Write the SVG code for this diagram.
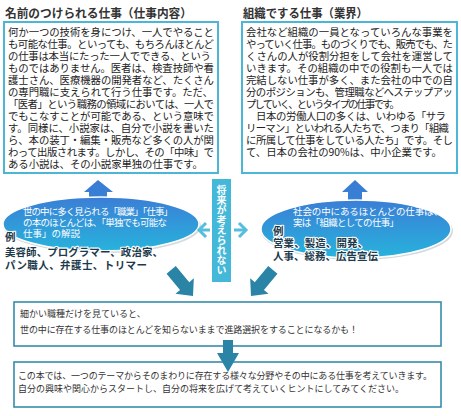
<svg xmlns="http://www.w3.org/2000/svg" width="461" height="416" viewBox="0 0 461 416">
<defs>
<style>
.t{font-family:"Noto Sans CJK JP","Noto Sans",sans-serif;}
.title{font-size:12px;font-weight:bold;fill:#333;}
.body{font-size:10.4px;fill:#222;}
.box1{fill:#fff;stroke:#4bb6d6;stroke-width:2;}
.ew{font-size:9.5px;fill:#fff;}
.ex{font-size:10.5px;font-weight:bold;fill:#1d3a4c;stroke:#fff;stroke-width:2.2px;paint-order:stroke;stroke-linejoin:round;}
.vt{font-size:10px;font-weight:bold;fill:#fff;}
.box2{fill:#fff;stroke:#2a84a6;stroke-width:1.5;}
.small{font-size:9px;fill:#333;}
.dk{fill:#2a84a6;}
.chev{fill:none;stroke:#55bedd;stroke-width:3;stroke-linejoin:miter;}
</style>
<linearGradient id="eg" x1="0" y1="0" x2="0" y2="1">
<stop offset="0" stop-color="#3b7ed6"/>
<stop offset="1" stop-color="#27b3dc"/>
</linearGradient>
<linearGradient id="ag" x1="0" y1="0" x2="0" y2="1">
<stop offset="0" stop-color="#3a7bd4"/>
<stop offset="1" stop-color="#3584d6"/>
</linearGradient>
</defs>

<g id="node-left">
<text class="t title" x="5" y="17.5" textLength="187" lengthAdjust="spacingAndGlyphs">名前のつけられる仕事（仕事内容）</text>
<rect class="box1" x="4" y="22" width="214" height="151"/>
<text class="t body">
<tspan x="8" y="36" textLength="206" lengthAdjust="spacing">何か一つの技術を身につけ、一人でやること</tspan>
<tspan x="8" y="48" textLength="206" lengthAdjust="spacing">も可能な仕事。といっても、もちろんほとんど</tspan>
<tspan x="8" y="60" textLength="203" lengthAdjust="spacing">の仕事は本当にたった一人でできる、という</tspan>
<tspan x="8" y="72" textLength="206" lengthAdjust="spacing">ものではありません。医者は、検査技師や看</tspan>
<tspan x="8" y="84" textLength="206" lengthAdjust="spacing">護士さん、医療機器の開発者など、たくさん</tspan>
<tspan x="8" y="96" textLength="205" lengthAdjust="spacing">の専門職に支えられて行う仕事です。ただ、</tspan>
<tspan x="8" y="108" textLength="206" lengthAdjust="spacing">「医者」という職務の領域においては、一人で</tspan>
<tspan x="8" y="120" textLength="206" lengthAdjust="spacing">でもこなすことが可能である、という意味で</tspan>
<tspan x="8" y="132" textLength="206" lengthAdjust="spacing">す。同様に、小説家は、自分で小説を書いた</tspan>
<tspan x="8" y="144" textLength="206" lengthAdjust="spacing">ら、本の装丁・編集・販売など多くの人が関</tspan>
<tspan x="8" y="156" textLength="206" lengthAdjust="spacing">わって出版されます。しかし、その「中味」で</tspan>
<tspan x="8" y="168" textLength="195" lengthAdjust="spacing">ある小説は、その小説家単独の仕事です。</tspan>
</text>
</g>

<g id="node-right">
<text class="t title" x="243" y="17.5" textLength="125" lengthAdjust="spacingAndGlyphs">組織でする仕事（業界）</text>
<rect class="box1" x="242" y="22" width="215" height="151"/>
<text class="t body">
<tspan x="246" y="36" textLength="207" lengthAdjust="spacing">会社など組織の一員となっていろんな事業を</tspan>
<tspan x="246" y="48" textLength="207" lengthAdjust="spacing">やっていく仕事。ものづくりでも、販売でも、た</tspan>
<tspan x="246" y="60" textLength="207" lengthAdjust="spacing">くさんの人が役割分担をして会社を運営して</tspan>
<tspan x="246" y="72" textLength="207" lengthAdjust="spacing">いきます。その組織の中での役割も一人では</tspan>
<tspan x="246" y="84" textLength="207" lengthAdjust="spacing">完結しない仕事が多く、また会社の中での自</tspan>
<tspan x="246" y="96" textLength="207" lengthAdjust="spacing">分のポジションも、管理職などへステップアッ</tspan>
<tspan x="246" y="108" textLength="154" lengthAdjust="spacing">プしていく、というタイプの仕事です。</tspan>
<tspan x="246" y="120" textLength="200" lengthAdjust="spacing">　日本の労働人口の多くは、いわゆる「サラ</tspan>
<tspan x="246" y="132" textLength="203" lengthAdjust="spacing">リーマン」といわれる人たちで、つまり「組織</tspan>
<tspan x="246" y="144" textLength="207" lengthAdjust="spacing">に所属して仕事をしている人たち」です。そし</tspan>
<tspan x="246" y="156" textLength="196" lengthAdjust="spacing">て、日本の会社の90%は、中小企業です。</tspan>
</text>
</g>

<g id="node-ellipse-left">
<ellipse cx="102" cy="226" rx="99" ry="27" fill="#a9b4ba" opacity="0.5"/>
<polygon points="98,180 113,192 107,192 107,210 89,210 89,192 84,192" fill="url(#ag)"/>
<ellipse cx="101" cy="224" rx="98" ry="27" fill="url(#eg)" stroke="#fff" stroke-width="1.5"/>
<text class="t ew">
<tspan x="23" y="215" textLength="150" lengthAdjust="spacing">世の中に多く見られる「職業」「仕事」</tspan>
<tspan x="23" y="226" textLength="144" lengthAdjust="spacing">の本のほとんどは、「単独でも可能な</tspan>
<tspan x="23" y="237">仕事」の解説</tspan>
</text>
<text class="t ex">
<tspan x="5" y="241">例</tspan>
<tspan x="5" y="256" textLength="158" lengthAdjust="spacing">美容師、プログラマー、政治家、</tspan>
<tspan x="5" y="269" textLength="142" lengthAdjust="spacing">パン職人、弁護士、トリマー</tspan>
</text>
</g>

<g id="node-ellipse-right">
<ellipse cx="357" cy="231" rx="96" ry="29" fill="#a9b4ba" opacity="0.5"/>
<polygon points="355,180 368,192 362,192 362,210 348,210 348,192 342,192" fill="url(#ag)"/>
<ellipse cx="356" cy="229" rx="95" ry="29" fill="url(#eg)" stroke="#fff" stroke-width="1.5"/>
<text class="t ew">
<tspan x="293" y="215" textLength="150" lengthAdjust="spacing">社会の中にあるほとんどの仕事は、</tspan>
<tspan x="293" y="226" textLength="106" lengthAdjust="spacing">実は「組織としての仕事」</tspan>
</text>
<text class="t ex">
<tspan x="273" y="235">例</tspan>
<tspan x="273" y="247" textLength="95" lengthAdjust="spacing">営業、製造、開発、</tspan>
<tspan x="273" y="260" textLength="105" lengthAdjust="spacing">人事、総務、広告宣伝</tspan>
</text>
</g>

<g id="node-vertical">
<rect x="212" y="179" width="19" height="103" fill="#43b8d8"/>
<text class="t vt" x="221.5" y="185" writing-mode="vertical-rl" textLength="90" lengthAdjust="spacing">将来が考えられない</text>
</g>

<g id="node-box3">
<rect class="box2" x="14" y="302" width="427" height="44"/>
<text class="t small">
<tspan x="20" y="317">細かい職種だけを見ていると、</tspan>
<tspan x="20" y="333" textLength="338" lengthAdjust="spacing">世の中に存在する仕事のほとんどを知らないままで進路選択をすることになるかも！</tspan>
</text>
</g>

<g id="node-box4">
<rect class="box2" x="14" y="362" width="427" height="45"/>
<text class="t small">
<tspan x="18" y="379" textLength="414" lengthAdjust="spacing">この本では、一つのテーマからそのまわりに存在する様々な分野やその中にある仕事を考えていきます。</tspan>
<tspan x="18" y="392">自分の興味や関心からスタートし、自分の将来を広げて考えていくヒントにしてみてください。</tspan>
</text>
</g>

<g id="connectors">
<polyline class="chev" points="206,223 199,230 206,237"/>
<line x1="199" y1="230" x2="210" y2="230" stroke="#55bedd" stroke-width="3"/>
<polyline class="chev" points="239,223 246,230 239,237"/>
<line x1="234" y1="230" x2="246" y2="230" stroke="#55bedd" stroke-width="3"/>
<polygon class="dk" transform="translate(193,296) rotate(50)" points="-34,-6 -13,-6 -13,-12 0,0 -13,12 -13,6 -34,6"/>
<polygon class="dk" transform="translate(251,296) rotate(130)" points="-34,-6 -13,-6 -13,-12 0,0 -13,12 -13,6 -34,6"/>
<polygon class="dk" points="223,340 233,340 233,353 239,353 228,372 217,353 223,353"/>
</g>
</svg>
